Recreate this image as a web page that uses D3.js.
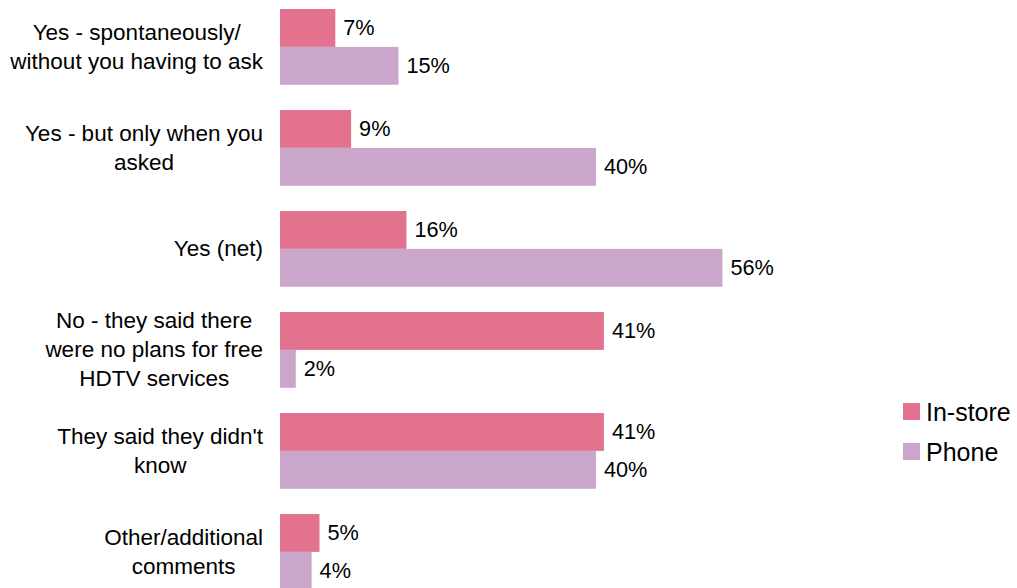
<!DOCTYPE html>
<html>
<head>
<meta charset="utf-8">
<script src="https://cdn.jsdelivr.net/npm/d3@7"></script>
<style>
  html, body { margin: 0; padding: 0; background: #fff; }
  svg { display: block; font-family: "Liberation Sans", Arial, sans-serif; }
</style>
</head>
<body>
<svg id="chart" width="1017" height="588"></svg>
<script>
// Survey answers (each label split into its display lines)
const categories = [
  ["Yes - spontaneously/", "without you having to ask"],
  ["Yes - but only when you", "asked"],
  ["Yes (net)"],
  ["No - they said there", "were no plans for free", "HDTV services"],
  ["They said they didn't", "know"],
  ["Other/additional", "comments"]
];
const seriesNames = ["In-store", "Phone"];
const inStore = [7, 9, 16, 41, 41, 5];
const phone = [15, 40, 56, 2, 40, 4];
const colors = ["#E3728F", "#CAA6CA"];

const svg = d3.select("#chart");
const keys = categories.map(c => c.join(" "));
const series = [inStore, phone];

const x = d3.scaleLinear().domain([0, 100]).range([280, 1070]);
const y = d3.scaleBand().domain(keys).range([-3.6, 602.4])
  .paddingInner(0.25).paddingOuter(0.125);
const ySub = d3.scaleBand().domain(seriesNames).range([0, y.bandwidth()]);

const labelSize = 22.5;
const valueSize = 21.7;
const lineH = 29;

// Bars and value labels
seriesNames.forEach((name, si) => {
  const g = svg.append("g");
  g.selectAll("rect").data(series[si]).join("rect")
    .attr("x", x(0))
    .attr("y", (d, i) => y(keys[i]) + ySub(name))
    .attr("width", d => x(d) - x(0))
    .attr("height", ySub.bandwidth())
    .attr("fill", colors[si]);
  g.selectAll("text").data(series[si]).join("text")
    .attr("x", d => x(d) + 8)
    .attr("y", (d, i) => y(keys[i]) + ySub(name) + ySub.bandwidth() / 2)
    .attr("dominant-baseline", "central")
    .attr("font-size", valueSize)
    .attr("fill", "#000")
    .text(d => d + "%");
});

// Category labels: lines centred within a block right-aligned beside the axis
const labelRight = 263;
categories.forEach((lines, i) => {
  const g = svg.append("g");
  const cy = y(keys[i]) + y.bandwidth() / 2;
  const texts = lines.map((line, li) => g.append("text")
    .attr("y", cy + (li - (lines.length - 1) / 2) * lineH)
    .attr("dominant-baseline", "central")
    .attr("text-anchor", "middle")
    .attr("font-size", labelSize)
    .attr("fill", "#000")
    .text(line));
  const maxW = d3.max(texts, t => t.node().getComputedTextLength());
  texts.forEach(t => t.attr("x", labelRight - maxW / 2));
});

// Legend
const legend = svg.append("g").attr("transform", "translate(903,403)");
seriesNames.forEach((name, i) => {
  const row = legend.append("g").attr("transform", `translate(0,${i * 40})`);
  row.append("rect").attr("width", 17).attr("height", 17).attr("fill", colors[i]);
  row.append("text").attr("x", 23).attr("y", 9)
    .attr("dominant-baseline", "central")
    .attr("font-size", 25)
    .attr("fill", "#000")
    .text(name);
});
</script>
</body>
</html>
